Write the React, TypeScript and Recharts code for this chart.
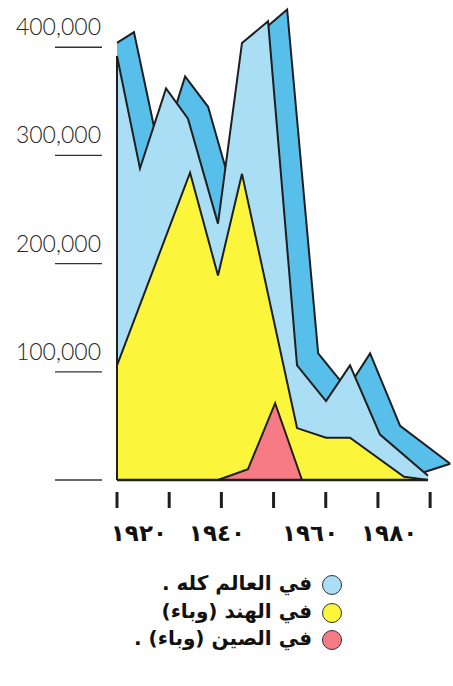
import { AreaChart, Area, XAxis, YAxis, ReferenceLine } from "recharts";

// positions along the time axis (t), tick marks every 2 units
const worldT = [0, 0.88, 1.88, 2.72, 3.87, 4.79, 5.79, 6.9, 8.01, 8.93, 10.08, 11.92];
const worldDeaths = [392000, 288000, 362000, 334000, 237000, 404000, 424000, 106000, 73000, 106000, 42000, 4000];

// back edge of the drawn "ribbon" behind the world area
const ribbonT = [0, 0.65, 1.38, 1.65, 2.61, 3.49, 4.64, 5.56, 6.52, 7.71, 8.82, 9.7, 10.85, 12.77];
const ribbonTop = [404000, 414000, 331000, 299000, 373000, 345000, 248000, 415000, 435000, 117000, 84000, 117000, 50000, 15000];
const ribbonBottom = [0, 0, 0, 0, 0, 0, 0, 0, 0, 0, 0, 0, 0, 15000];

const indiaT = [0, 2.8, 3.87, 4.79, 6.9, 8.01, 8.93, 11.0, 11.92];
const indiaDeaths = [106000, 284000, 189000, 283000, 48000, 39000, 39000, 3000, 0];

const chinaT = [3.87, 5.02, 6.06, 7.09];
const chinaDeaths = [0, 10000, 71000, 0];

const tickT = [0, 2, 4, 6, 8, 10, 12];
const yearLabelT = [0.84, 3.83, 7.4, 10.43];
const yearLabels = ["١٩٢٠", "١٩٤٠", "١٩٦٠", "١٩٨٠"];
const yTicks = [0, 100000, 200000, 300000, 400000];

const legendLabels = ["في العالم كله .", "في الهند (وباء)", "في الصين (وباء) ."];

const COLORS = {
  world: "#a9def5",
  ribbon: "#57bfe9",
  india: "#fbf53c",
  china: "#f77b84",
  ink: "#1e1e1e",
};
const legendColors = [COLORS.world, COLORS.india, COLORS.china];

type Row = { t: number; world?: number; ribbon?: number[]; india?: number; china?: number };

const byT = new Map<number, Row>();
const put = (t: number, key: keyof Row, v: any) => {
  const r = byT.get(t) ?? { t };
  (r as any)[key] = v;
  byT.set(t, r);
};
worldT.forEach((t, i) => put(t, "world", worldDeaths[i]));
ribbonT.forEach((t, i) => put(t, "ribbon", [ribbonBottom[i], ribbonTop[i]]));
indiaT.forEach((t, i) => put(t, "india", indiaDeaths[i]));
chinaT.forEach((t, i) => put(t, "china", chinaDeaths[i]));

// opening row closes the left edge of the areas down to zero
const chartData: Row[] = [
  { t: 0, world: 0, india: 0 },
  ...Array.from(byT.values()).sort((a, b) => a.t - b.t),
];

function TickMark({ x, y }: any) {
  return <line x1={x} x2={x} y1={y + 12} y2={y + 28} stroke={COLORS.ink} strokeWidth={3} />;
}

function YearTick({ x, y, payload }: any) {
  const label = yearLabels[yearLabelT.indexOf(payload.value)];
  return (
    <text
      x={x}
      y={y + 31}
      textAnchor="middle"
      fontFamily="'DejaVu Sans', sans-serif"
      fontWeight="bold"
      fontSize={23}
      fill="#111"
    >
      {label}
    </text>
  );
}

function ValueTick({ x, y, payload }: any) {
  return (
    <g>
      <line x1={x - 62} x2={x - 15} y1={y} y2={y} stroke="#333" strokeWidth={1.3} />
      {payload.value > 0 && (
        <text
          x={x - 16}
          y={y - 12}
          textAnchor="end"
          fontFamily="Lato, 'Open Sans', sans-serif"
          fontWeight={300}
          fontSize={23}
          fill="#262626"
        >
          {payload.value.toLocaleString("en-US")}
        </text>
      )}
    </g>
  );
}

function LegendBox() {
  return (
    <div style={{ position: "absolute", left: 0, top: 571, width: 453 }}>
      {legendLabels.map((label, i) => (
        <div key={label} style={{ position: "relative", height: 27.5 }}>
          <div
            dir="rtl"
            style={{
              position: "absolute",
              right: 453 - 312,
              top: -1,
              whiteSpace: "nowrap",
              fontFamily: "'DejaVu Sans', sans-serif",
              fontWeight: "bold",
              fontSize: 20,
              lineHeight: "27px",
              color: "#111",
            }}
          >
            {label}
          </div>
          <div
            style={{
              position: "absolute",
              left: 322,
              top: 4,
              width: 18,
              height: 18,
              borderRadius: "50%",
              background: legendColors[i],
              border: "1.5px solid #333",
            }}
          />
        </div>
      ))}
    </div>
  );
}

export default function App() {
  return (
    <div style={{ position: "absolute", left: 0, top: 0, width: 453, height: 686, background: "#fff" }}>
      <AreaChart
        width={453}
        height={686}
        data={chartData}
        margin={{ top: 4, right: 2, left: 17, bottom: 136 }}
      >
        <XAxis
          type="number"
          dataKey="t"
          domain={[0, 12.8]}
          ticks={tickT}
          height={30}
          tickSize={0}
          tickMargin={0}
          tickLine={false}
          axisLine={false}
          tick={<TickMark />}
        />
        <XAxis
          xAxisId="years"
          type="number"
          dataKey="t"
          domain={[0, 12.8]}
          ticks={yearLabelT}
          height={40}
          tickSize={0}
          tickMargin={0}
          tickLine={false}
          axisLine={false}
          tick={<YearTick />}
        />
        <YAxis
          type="number"
          domain={[0, 440000]}
          ticks={yTicks}
          width={100}
          tickSize={0}
          tickMargin={0}
          tickLine={false}
          axisLine={false}
          tick={<ValueTick />}
        />
        <Area
          type="linear"
          dataKey="ribbon"
          connectNulls
          fill={COLORS.ribbon}
          fillOpacity={1}
          stroke={COLORS.ink}
          strokeWidth={2}
          dot={false}
          activeDot={false}
          isAnimationActive={false}
        />
        <Area
          type="linear"
          dataKey="world"
          connectNulls
          fill={COLORS.world}
          fillOpacity={1}
          stroke={COLORS.ink}
          strokeWidth={2}
          dot={false}
          activeDot={false}
          isAnimationActive={false}
        />
        <Area
          type="linear"
          dataKey="india"
          connectNulls
          fill={COLORS.india}
          fillOpacity={1}
          stroke={COLORS.ink}
          strokeWidth={2}
          dot={false}
          activeDot={false}
          isAnimationActive={false}
        />
        <Area
          type="linear"
          dataKey="china"
          connectNulls
          fill={COLORS.china}
          fillOpacity={1}
          stroke={COLORS.ink}
          strokeWidth={2}
          dot={false}
          activeDot={false}
          isAnimationActive={false}
        />
        <ReferenceLine
          segment={[
            { x: 0, y: 0 },
            { x: worldT[worldT.length - 1], y: 0 },
          ]}
          stroke={COLORS.ink}
          strokeWidth={2.5}
        />
      </AreaChart>
      <LegendBox />
    </div>
  );
}
